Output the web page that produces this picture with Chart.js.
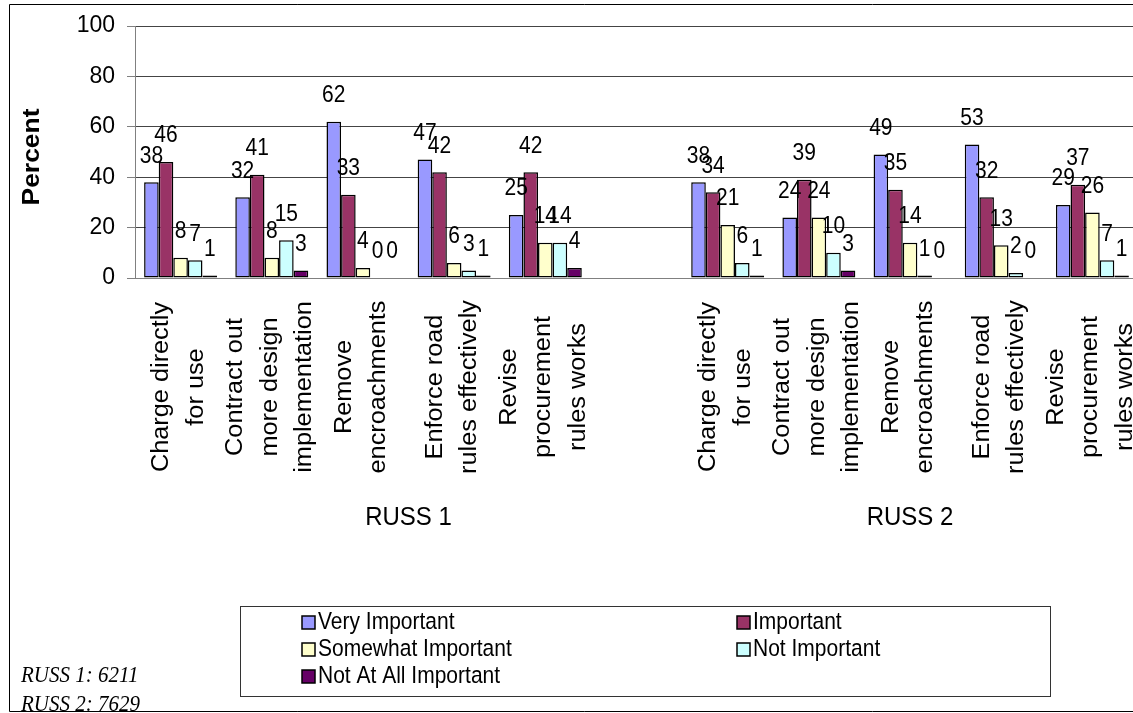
<!DOCTYPE html>
<html>
<head>
<meta charset="utf-8">
<title>Reform priorities by survey round</title>
<style>
  html, body { margin: 0; padding: 0; background: #fff; overflow: hidden; width: 1133px; height: 713px; }
  canvas { display: block; }
</style>
<script src="https://cdn.jsdelivr.net/npm/chart.js@4.4.1/dist/chart.umd.min.js"></script>
</head>
<body>
<canvas id="chart" width="1160" height="713"></canvas>
<script>
// ---- data ----
const categories = [
  ['Charge directly', 'for use'],
  ['Contract out', 'more design', 'implementation'],
  ['Remove', 'encroachments'],
  ['Enforce road', 'rules effectively'],
  ['Revise', 'procurement', 'rules works'],
  [],
  ['Charge directly', 'for use'],
  ['Contract out', 'more design', 'implementation'],
  ['Remove', 'encroachments'],
  ['Enforce road', 'rules effectively'],
  ['Revise', 'procurement', 'rules works']
];
const categoryGroup = ['RUSS 1', 'RUSS 1', 'RUSS 1', 'RUSS 1', 'RUSS 1', 'RUSS 1',
                       'RUSS 2', 'RUSS 2', 'RUSS 2', 'RUSS 2', 'RUSS 2'];
const seriesNames = ['Very Important', 'Important', 'Somewhat Important', 'Not Important', 'Not At All Important'];
const veryImportant     = [38, 32, 62, 47, 25, null, 38, 24, 49, 53, 29];
const important         = [46, 41, 33, 42, 42, null, 34, 39, 35, 32, 37];
const somewhatImportant = [ 8,  8,  4,  6, 14, null, 21, 24, 14, 13, 26];
const notImportant      = [ 7, 15,  0,  3, 14, null,  6, 10,  1,  2,  7];
const notAtAllImportant = [ 1,  3,  0,  1,  4, null,  1,  3,  0,  0,  1];
const yTicks = [0, 20, 40, 60, 80, 100];
const yTitle = 'Percent';
const sampleNotes = ['RUSS 1: 6211', 'RUSS 2: 7629'];

// ---- styling ----
const SANS = '"Liberation Sans", Arial, Helvetica, sans-serif';
const SERIF = '"Liberation Serif", "Times New Roman", serif';
const seriesColors = ['#9999FF', '#993366', '#FFFFCC', '#CCFFFF', '#660066'];
const seriesValues = [veryImportant, important, somewhatImportant, notImportant, notAtAllImportant];
const TEXT_STRETCH = 1.1; // glyphs are drawn slightly taller than wide

Chart.defaults.color = '#000';
Chart.defaults.font.family = SANS;

const datasets = seriesNames.map((name, i) => ({
  label: name,
  data: seriesValues[i],
  backgroundColor: seriesColors[i],
  borderColor: '#000',
  borderWidth: 1.5,
  borderSkipped: false,
  categoryPercentage: 0.8,
  barPercentage: 1.0
}));

// draw one piece of text at (x, y), optionally rotated, with a vertical stretch
function drawText(ctx, text, x, y, font, opts = {}) {
  ctx.save();
  ctx.font = font;
  ctx.fillStyle = opts.color || '#000';
  ctx.textAlign = opts.align || 'center';
  ctx.textBaseline = opts.baseline || 'middle';
  ctx.translate(x, y);
  ctx.scale(1, TEXT_STRETCH);
  if (opts.rotate) ctx.rotate(opts.rotate);
  ctx.fillText(text, 0, 0);
  ctx.restore();
}

// Text, legend and frame drawn on top of the chart
const decorations = {
  id: 'decorations',
  beforeDraw(chart) {
    const ctx = chart.ctx;
    ctx.save();
    ctx.fillStyle = '#fff';
    ctx.fillRect(0, 0, chart.width, chart.height);
    ctx.restore();
  },
  afterDraw(chart) {
    const ctx = chart.ctx;
    const xs = chart.scales.x;

    // value labels above each bar
    chart.data.datasets.forEach((ds, di) => {
      const meta = chart.getDatasetMeta(di);
      meta.data.forEach((bar, i) => {
        const v = ds.data[i];
        if (v === null || v === undefined) return;
        drawText(ctx, String(v), bar.x, bar.y - 26, '21px ' + SANS);
      });
    });

    // rotated, centred category labels
    categories.forEach((lines, i) => {
      const cx = xs.getPixelForValue(i);
      lines.forEach((line, k) => {
        const lx = cx - 1.5 + (k - (lines.length - 1) / 2) * 34.5;
        drawText(ctx, line, lx, 387, '23px ' + SANS, { rotate: -Math.PI / 2 });
      });
    });

    // group labels under each survey round
    const groupNames = [...new Set(categoryGroup)];
    groupNames.forEach(g => {
      const first = categoryGroup.indexOf(g);
      const last = categoryGroup.lastIndexOf(g);
      const gx = (xs.getPixelForValue(first) + xs.getPixelForValue(last)) / 2;
      drawText(ctx, g, gx, 518, '24px ' + SANS);
    });

    // y axis title
    drawText(ctx, yTitle, 32, 157, 'bold 24px ' + SANS, { rotate: -Math.PI / 2 });

    // legend box, two columns
    ctx.save();
    ctx.fillStyle = '#fff';
    ctx.fillRect(240, 606, 810, 90);
    ctx.strokeStyle = '#333';
    ctx.lineWidth = 1;
    ctx.strokeRect(240.5, 606.5, 810, 90);
    const colX = [302, 737];
    chart.data.datasets.forEach((ds, i) => {
      const col = i % 2, row = Math.floor(i / 2);
      const sx = colX[col];
      const cy = 622.5 + row * 27;
      ctx.fillStyle = ds.backgroundColor;
      ctx.fillRect(sx, cy - 6.5, 13, 13);
      ctx.strokeStyle = '#000';
      ctx.lineWidth = 1.5;
      ctx.strokeRect(sx, cy - 6.5, 13, 13);
      drawText(ctx, ds.label, sx + 16, cy, '21px ' + SANS, { align: 'left' });
    });
    ctx.restore();

    // sample size notes
    sampleNotes.forEach((t, i) =>
      drawText(ctx, t, 21, 682 + i * 29, 'italic 21px ' + SERIF, { align: 'left', baseline: 'alphabetic' }));

    // outer frame
    ctx.save();
    ctx.strokeStyle = '#000';
    ctx.lineWidth = 1;
    ctx.beginPath();
    ctx.moveTo(chart.width, 4.5);
    ctx.lineTo(9.5, 4.5);
    ctx.lineTo(9.5, 711.5);
    ctx.lineTo(chart.width, 711.5);
    ctx.stroke();
    ctx.restore();
  }
};

new Chart(document.getElementById('chart'), {
  type: 'bar',
  data: { labels: categories.map(c => c.join(' ')), datasets },
  options: {
    responsive: false,
    animation: false,
    layout: { padding: { left: 0, right: 22, top: 26, bottom: 0 } },
    plugins: { legend: { display: false }, tooltip: { enabled: false } },
    scales: {
      x: {
        ticks: { display: false },
        grid: { display: false, drawTicks: false },
        border: { display: true, color: '#808080', width: 1 },
        afterFit(scale) { scale.height = 713 - 278; }
      },
      y: {
        min: yTicks[0],
        max: yTicks[yTicks.length - 1],
        afterBuildTicks(scale) { scale.ticks = yTicks.map(v => ({ value: v })); },
        ticks: { font: { size: 23, family: SANS }, color: '#000', padding: 12 },
        grid: { color: '#444', lineWidth: 1, tickLength: 8, tickColor: '#808080' },
        border: { display: true, color: '#808080', width: 1 },
        afterFit(scale) { scale.width = 135; }
      }
    }
  },
  plugins: [decorations]
});
</script>
</body>
</html>
